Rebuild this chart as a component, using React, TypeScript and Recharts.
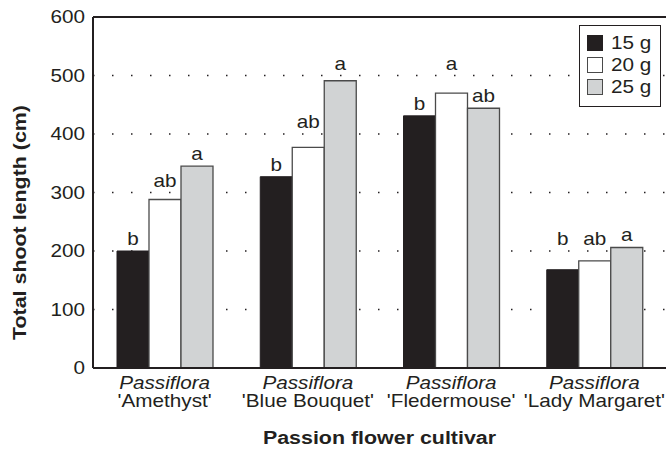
import React from "react";
import { BarChart, Bar, XAxis, YAxis, CartesianGrid, LabelList, ReferenceLine } from "recharts";

const categories = ["'Amethyst'", "'Blue Bouquet'", "'Fledermouse'", "'Lady Margaret'"];
const genus = "Passiflora";
const values15 = [200, 327, 431, 168];
const values20 = [288, 377, 470, 183];
const values25 = [345, 491, 444, 206];
const letters15 = ["b", "b", "b", "b"];
const letters20 = ["ab", "ab", "a", "ab"];
const letters25 = ["a", "a", "ab", "a"];
const yTicks = [0, 100, 200, 300, 400, 500, 600];
const gridValues = [100, 200, 300, 400, 500];
const seriesNames = ["15 g", "20 g", "25 g"];

const INK = "#231f20";
const GRAY = "#d1d3d4";
const EDGE = "#4a4a4a";
const FONT = "'Liberation Sans', Arial, Helvetica, sans-serif";
const SX = 1.17;

const data = categories.map((c, i) => ({
  name: c,
  v15: values15[i],
  v20: values20[i],
  v25: values25[i],
  l15: letters15[i],
  l20: letters20[i],
  l25: letters25[i],
}));

const makeLetter = (vals: number[]) => (props: any) => {
  const { x, y, width, height, value, index } = props;
  const v = vals[index];
  const top = Number(y);
  const h = Number(height);
  let base = top - 6;
  for (const t of gridValues) {
    const g = top + h - (t * h) / v;
    if (g >= base - 13 && g <= top + 0.5) base = g - 6;
  }
  const cx = Number(x) + Number(width) / 2;
  return (
    <g transform={`translate(${cx},${base}) scale(${SX},1)`}>
      <text x={0} y={0} textAnchor="middle" fontFamily={FONT} fontSize={17.7} fill={INK}>
        {value}
      </text>
    </g>
  );
};

const YTick = (props: any) => {
  const { x, y, payload } = props;
  return (
    <g transform={`translate(${x},${y}) scale(${SX},1)`}>
      <text x={0} y={0} dy="0.36em" textAnchor="end" fontFamily={FONT} fontSize={17.7} fill={INK}>
        {payload.value}
      </text>
    </g>
  );
};

const XTick = (props: any) => {
  const { x, y, payload } = props;
  return (
    <g>
      <g transform={`translate(${x},${y + 13}) scale(${SX},1)`}>
        <text x={0} y={0} textAnchor="middle" fontFamily={FONT} fontSize={17.7} fontStyle="italic" fill={INK}>
          {genus}
        </text>
      </g>
      <g transform={`translate(${x},${y + 31}) scale(${SX},1)`}>
        <text x={0} y={0} textAnchor="middle" fontFamily={FONT} fontSize={17.7} fill={INK}>
          {payload.value}
        </text>
      </g>
    </g>
  );
};

const XTitle = (props: any) => {
  const vb = props.viewBox || {};
  const cx = vb.x + vb.width / 2;
  return (
    <g transform={`translate(${cx},${vb.y + 76}) scale(${SX},1)`}>
      <text x={0} y={0} textAnchor="middle" fontFamily={FONT} fontSize={18.3} fontWeight="bold" fill={INK}>
        Passion flower cultivar
      </text>
    </g>
  );
};

const YTitle = (props: any) => {
  const vb = props.viewBox || {};
  const cy = vb.y + vb.height / 2 + 30;
  return (
    <g transform={`translate(19,${cy}) rotate(-90) scale(${SX},1)`}>
      <text x={0} y={0} dy="0.36em" textAnchor="middle" fontFamily={FONT} fontSize={18.3} fontWeight="bold" fill={INK}>
        Total shoot length (cm)
      </text>
    </g>
  );
};

const swatchStyles = [
  { background: INK, border: `1px solid ${INK}` },
  { background: "#ffffff", border: `1px solid ${EDGE}` },
  { background: GRAY, border: `1px solid ${EDGE}` },
];

const LegendBox = () => (
  <div
    style={{
      position: "absolute",
      left: 579,
      top: 25,
      width: 82,
      height: 82,
      boxSizing: "border-box",
      border: `1.5px solid ${INK}`,
      background: "#fff",
      fontFamily: FONT,
      color: INK,
    }}
  >
    {seriesNames.map((n, i) => (
      <div key={n}>
        <div
          style={{
            position: "absolute",
            left: 7,
            top: 9 + i * 22,
            width: 16,
            height: 16,
            boxSizing: "border-box",
            ...swatchStyles[i],
          }}
        />
        <div
          style={{
            position: "absolute",
            left: 31,
            top: 6 + i * 22,
            fontSize: 17.7,
            lineHeight: "22px",
            whiteSpace: "nowrap",
            transform: `scaleX(${SX})`,
            transformOrigin: "left center",
          }}
        >
          {n}
        </div>
      </div>
    ))}
  </div>
);

export default function App() {
  return (
    <div style={{ position: "absolute", left: 0, top: 0, width: 668, height: 453, background: "#fff" }}>
      <BarChart
        width={668}
        height={453}
        data={data}
        margin={{ top: 17, right: 2, left: 0, bottom: 0 }}
        barSize={32}
        barGap={0}
      >
        <CartesianGrid
          yAxisId="left"
          horizontal={true}
          vertical={false}
          stroke={INK}
          strokeWidth={1.5}
          strokeDasharray="1.5 17.5"
        />
        <XAxis
          dataKey="name"
          height={85}
          axisLine={{ stroke: INK, strokeWidth: 2 }}
          tickLine={false}
          tick={<XTick />}
          interval={0}
          label={<XTitle />}
        />
        <YAxis
          yAxisId="left"
          width={93}
          domain={[0, 600]}
          ticks={yTicks}
          axisLine={{ stroke: INK, strokeWidth: 2 }}
          tickLine={false}
          tick={<YTick />}
          label={<YTitle />}
        />
        <YAxis
          yAxisId="right"
          orientation="right"
          width={0}
          domain={[0, 600]}
          ticks={yTicks}
          axisLine={{ stroke: INK, strokeWidth: 2 }}
          tickLine={false}
          tick={false}
        />
        <ReferenceLine yAxisId="left" y={600} stroke={INK} strokeWidth={2} />
        <Bar yAxisId="left" dataKey="v15" name={seriesNames[0]} fill={INK} stroke={INK} strokeWidth={1} isAnimationActive={false}>
          <LabelList dataKey="l15" content={makeLetter(values15)} />
        </Bar>
        <Bar yAxisId="left" dataKey="v20" name={seriesNames[1]} fill="#ffffff" stroke={EDGE} strokeWidth={1.3} isAnimationActive={false}>
          <LabelList dataKey="l20" content={makeLetter(values20)} />
        </Bar>
        <Bar yAxisId="left" dataKey="v25" name={seriesNames[2]} fill={GRAY} stroke={EDGE} strokeWidth={1.3} isAnimationActive={false}>
          <LabelList dataKey="l25" content={makeLetter(values25)} />
        </Bar>
      </BarChart>
      <LegendBox />
    </div>
  );
}
